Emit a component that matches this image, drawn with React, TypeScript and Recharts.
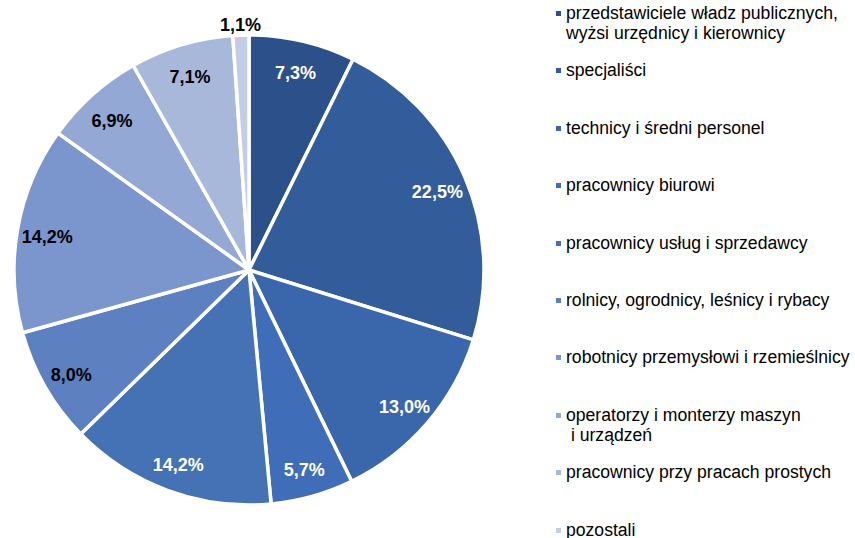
import React from "react";
import { PieChart, Pie, Cell, Legend } from "recharts";

const groups = [
  "przedstawiciele władz publicznych,\nwyżsi urzędnicy i kierownicy",
  "specjaliści",
  "technicy i średni personel",
  "pracownicy biurowi",
  "pracownicy usług i sprzedawcy",
  "rolnicy, ogrodnicy, leśnicy i rybacy",
  "robotnicy przemysłowi i rzemieślnicy",
  "operatorzy i monterzy maszyn\n i urządzeń",
  "pracownicy przy pracach prostych",
  "pozostali",
];

const shares = [7.3, 22.5, 13.0, 5.7, 14.2, 8.0, 14.2, 6.9, 7.1, 1.1];

const colors = [
  "#2C5089",
  "#335C9A",
  "#3A66AB",
  "#3F6DB8",
  "#4572B5",
  "#5C80C0",
  "#7A96CC",
  "#93A8D4",
  "#A8B8DB",
  "#C3CEE6",
];

// white labels on the darker slices
const darkSlices = 5;

const FONT = "'Liberation Sans', Arial, sans-serif";
const RADIAN = Math.PI / 180;

const data = groups.map((name, i) => ({ name, value: shares[i] }));

const fmt = (v: number) => v.toFixed(1).replace(".", ",") + "%";

const renderLabel = (props: any) => {
  const { cx, cy, midAngle, outerRadius, index, value } = props;
  // the tiny last slice gets its label outside, above the pie
  const outside = index === data.length - 1;
  const r = outside ? outerRadius + 10 : outerRadius - 30;
  const x = cx + r * Math.cos(-midAngle * RADIAN);
  const y = cy + r * Math.sin(-midAngle * RADIAN) + (outside ? 0 : 3);
  return (
    <text
      x={x}
      y={y}
      textAnchor="middle"
      dominantBaseline="central"
      fill={index < darkSlices ? "#FFFFFF" : "#000000"}
      fontFamily={FONT}
      fontWeight="bold"
      fontSize={18}
    >
      {fmt(value)}
    </text>
  );
};

const LegendBox = () => (
  <div style={{ position: "relative", width: 855, height: 538 }}>
    {data.map((d, i) => {
      const lines = d.name.split("\n");
      return (
        <div
          key={d.name}
          style={{
            position: "absolute",
            left: 555,
            top: 3 + i * 57.4,
            fontFamily: FONT,
            fontSize: 17.6,
            lineHeight: "20px",
            color: "#000",
            textAlign: "left",
            whiteSpace: "pre",
          }}
        >
          <span
            style={{
              position: "absolute",
              left: 1,
              top: 8,
              width: 5,
              height: 5,
              background: colors[i],
            }}
          />
          <div style={{ marginLeft: 11 }}>
            {lines.map((l) => (
              <div key={l}>{l}</div>
            ))}
          </div>
        </div>
      );
    })}
  </div>
);

const App = () => {
  return (
    <div style={{ position: "absolute", left: 0, top: 0, background: "#fff" }}>
      <PieChart width={855} height={538} margin={{ top: 0, right: 0, bottom: 0, left: 0 }}>
        <Pie
          data={data}
          dataKey="value"
          nameKey="name"
          cx={249}
          cy={270}
          outerRadius={235}
          startAngle={90}
          endAngle={-270}
          stroke="#FFFFFF"
          strokeWidth={3.5}
          label={renderLabel}
          labelLine={false}
          isAnimationActive={false}
        >
          {data.map((d, i) => (
            <Cell key={d.name} fill={colors[i]} />
          ))}
        </Pie>
        <Legend
          content={<LegendBox />}
          wrapperStyle={{ left: 0, top: 0, width: 855, height: 538, pointerEvents: "none" }}
        />
      </PieChart>
    </div>
  );
};

export default App;
